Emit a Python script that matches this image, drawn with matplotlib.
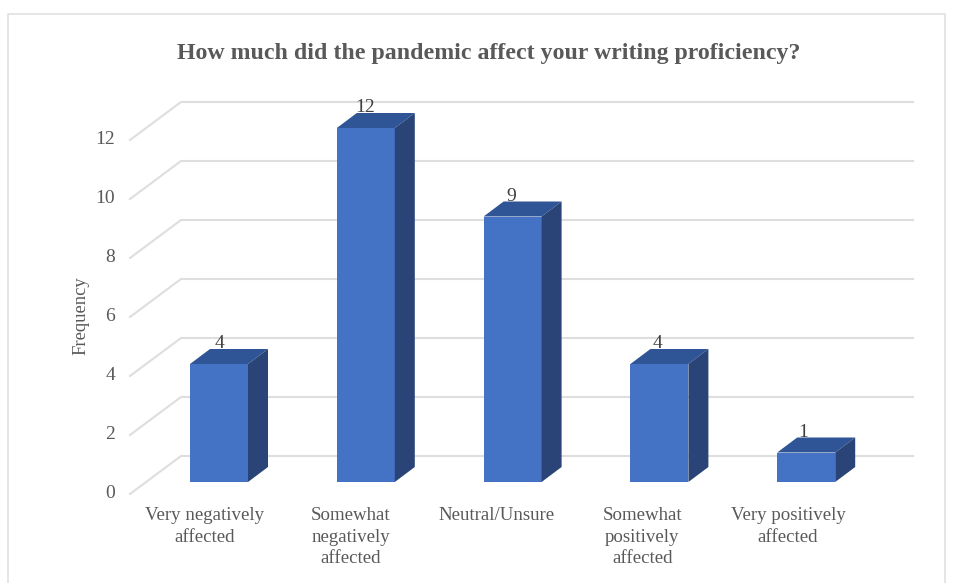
import matplotlib
matplotlib.use("Agg")
import matplotlib.pyplot as plt
from matplotlib.patches import Polygon

plt.rcParams['font.family'] = ['Liberation Serif', 'DejaVu Sans']

# Chart data
categories = ["Very negatively\naffected", "Somewhat\nnegatively\naffected", "Neutral/Unsure",
              "Somewhat\npositively\naffected", "Very positively\naffected"]
frequency = [4, 12, 9, 4, 1]
y_ticks = [0, 2, 4, 6, 8, 10, 12]

TITLE = "How much did the pandemic affect your writing proficiency?"
TEXT_COLOR = '#595959'
GRID_COLOR = '#dedede'
FRONT = '#4472c4'
TOP = '#2f5597'
SIDE = '#2a4478'

# Pixel scale of the axes: one category step and one frequency unit
W, H = 955, 583
X_UNIT = 146.8
Y_UNIT = 29.5
X0 = 219.0  # pixel x of first bar centre
Y0 = 482.0  # pixel y of the bar base

fig = plt.figure(figsize=(W / 100, H / 100), dpi=100)
ax = fig.add_axes([0, 0, 1, 1])
ax.set_xlim(-X0 / X_UNIT, (W - X0) / X_UNIT)
ax.set_ylim((Y0 - H) / Y_UNIT, Y0 / Y_UNIT)
ax.axis('off')

px = lambda p: p / X_UNIT
py = lambda p: p / Y_UNIT

# Chart frame
trans = ax.transAxes
ax.plot([8 / W, 8 / W, 945 / W, 945 / W], [0, 1 - 14 / H, 1 - 14 / H, 0], transform=trans,
        color=GRID_COLOR, lw=1.1, clip_on=False)

# Gridlines: front edge, diagonal to the back wall, then along the wall
wall_left = px(181 - X0)
wall_right = px(913 - X0)
front_left = px(130 - X0)
for v in y_ticks:
    ax.plot([front_left, wall_left, wall_right],
            [v - py(12), v + py(26), v + py(26)],
            color=GRID_COLOR, lw=1.5, solid_joinstyle='miter', zorder=1)
    ax.text(px(115 - X0), v - py(11.5), str(v), ha='right', va='center', color=TEXT_COLOR, fontsize=14)

# Bars as three faces
half = px(29)
dx = px(20)
dy = py(15)
for i, val in enumerate(frequency):
    l, r = i - half, i + half
    ax.add_patch(Polygon([(l, 0), (r, 0), (r, val), (l, val)], closed=True, fc=FRONT, ec='none', zorder=3))
    ax.add_patch(Polygon([(l, val), (r, val), (r + dx, val + dy), (l + dx, val + dy)],
                         closed=True, fc=TOP, ec='none', zorder=3))
    ax.add_patch(Polygon([(r, 0), (r + dx, dy), (r + dx, val + dy), (r, val)],
                         closed=True, fc=SIDE, ec='none', zorder=3))
    # labels in the reference sit on a slightly tighter step than the bars
    ax.text(i * 146 / X_UNIT, val + py(20), str(val), ha='center', va='center', color='#404040',
            fontsize=14, zorder=2)
    ax.text(i * 145.75 / X_UNIT - px(14), py(-25.5), categories[i], ha='center', va='top',
            color=TEXT_COLOR, fontsize=13.6, linespacing=1.33)

ax.text(px(81 - X0), py(Y0 - 316), "Frequency", rotation=90, ha='center', va='center',
        color=TEXT_COLOR, fontsize=13.4)
ax.text(px(489 - X0), py(Y0 - 53), TITLE, ha='center', va='center', color=TEXT_COLOR,
        fontsize=17.2, fontweight='bold')

fig.savefig('out.png', dpi=100)
